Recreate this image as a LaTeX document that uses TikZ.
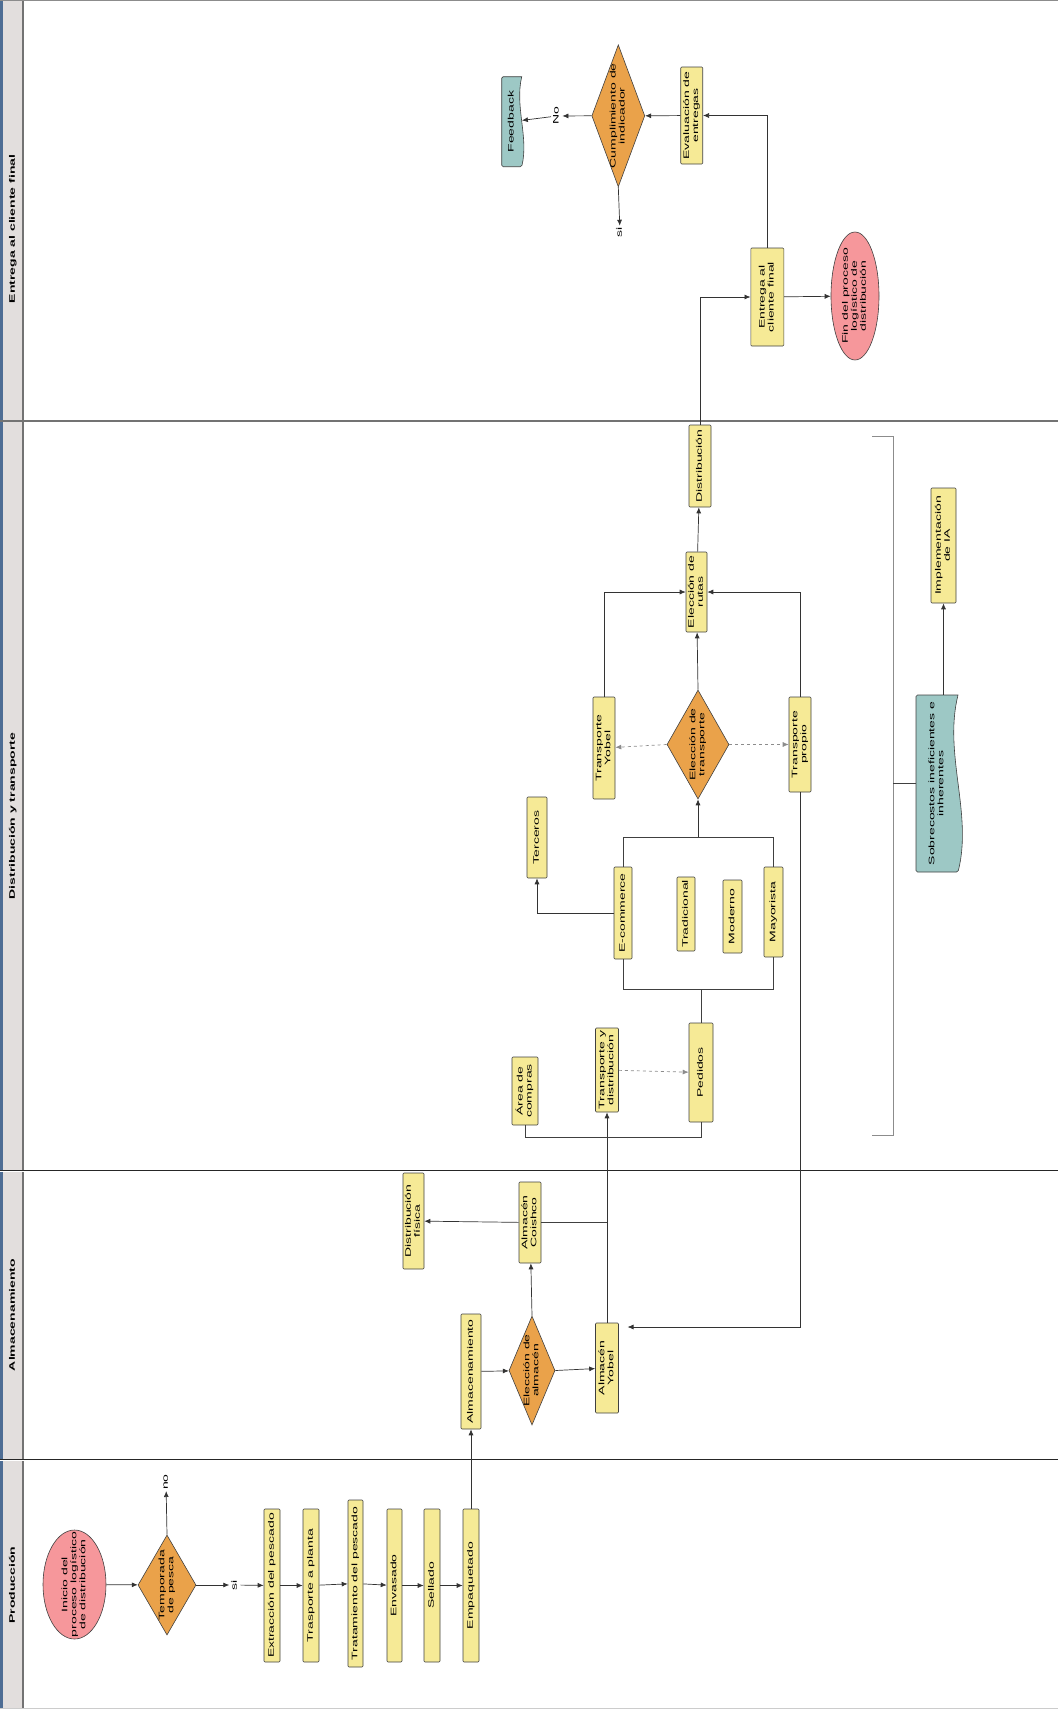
\documentclass[tikz,border=0pt]{standalone}
\usepackage{fontspec}
\setmainfont{Liberation Sans}
\usetikzlibrary{shapes.geometric,arrows.meta}

\definecolor{boxyellow}{HTML}{F6EA96}
\definecolor{decorange}{HTML}{EAA24A}
\definecolor{startpink}{HTML}{F6979B}
\definecolor{docteal}{HTML}{9DC8C5}
\definecolor{lanegrey}{HTML}{E2DEDD}
\definecolor{laneblue}{HTML}{4E6D94}

\newcommand{\vtxt}[1]{\rotatebox{90}{\scalebox{1.75}[1]{\begin{tabular}{@{}c@{}}#1\end{tabular}}}}
\newcommand{\wavedoc}[4]{%
  \filldraw[docshape, rounded corners=1.5pt]
    ({#1+#3/2},{#2-#4/2}) -- ({#1-#3/2},{#2-#4/2}) -- ({#1-#3/2},{#2+#4/2}) -- ({#1+#3/2},{#2+#4/2})
    [sharp corners] .. controls ({#1+#3*0.85},{#2+#4/6}) and ({#1+#3*0.15},{#2-#4/6}) .. ({#1+#3/2},{#2-#4/2}) -- cycle;}

\tikzset{
  sz/.style 2 args={minimum width=#1, minimum height=#2},
  box/.style={rectangle, draw=black!75, fill=boxyellow, rounded corners=1pt, inner sep=0pt, line width=0.6pt},
  decision/.style={diamond, draw=black!75, fill=decorange, inner sep=0pt, line width=0.6pt},
  startend/.style={ellipse, draw=black!75, fill=startpink, inner sep=0pt, line width=0.6pt},
  docshape/.style={draw=black!75, fill=docteal, line width=0.6pt},
  doctext/.style={rectangle, inner sep=0pt},
  tag/.style={inner sep=1pt},
  lanetitle/.style={inner sep=0pt, font=\fontsize{8}{9}\selectfont\bfseries},
  arr/.style={draw=black!80, line width=0.7pt, -{Latex[length=6pt,width=5pt]}},
  dasharr/.style={arr, draw=black!45, dashed},
  link/.style={draw=black!75, line width=0.7pt},
  bracket/.style={draw=black!45, line width=0.9pt}
}

\begin{document}
\begin{tikzpicture}[x=1pt, y=-1pt, font=\fontsize{8}{9}\selectfont]
  \useasboundingbox (0,0) rectangle (1058,1709);

  \fill[laneblue] (0,0) rectangle (3,1709);
  \fill[lanegrey] (3,0) rectangle (23,1709);
  \draw[black!55, line width=1.2pt] (23,0) -- (23,1709);
  \draw[black!45, line width=1pt] (0,0.5) -- (1058,0.5);
  \draw[black!55, line width=1.2pt] (0,421) -- (1058,421);
  \draw[black!85, double, double distance=0.8pt, line width=0.6pt] (0,1171) -- (1058,1171);
  \draw[black!85, double, double distance=0.8pt, line width=0.6pt] (0,1460) -- (1058,1460);
  \draw[black!20] (0,1708.5) -- (1058,1708.5);

  \begin{scope}[every node/.style={lanetitle}]
    \node (lane1) at (13,1585) {\vtxt{Producción}};
    \node (lane2) at (13,1315) {\vtxt{Almacenamiento}};
    \node (lane3) at (13,816)  {\vtxt{Distribución y transporte}};
    \node (lane4) at (13,229)  {\vtxt{Entrega al cliente final}};
  \end{scope}

  \wavedoc{937}{783.5}{42}{177}
  \wavedoc{511.7}{121.7}{20}{90}

  \begin{scope}[every node/.style={box}]
    \node[sz={16}{153}] (ext)   at (272,1585.5)  {\vtxt{Extracción del pescado}};
    \node[sz={16}{153}] (trp)   at (311,1585.5)  {\vtxt{Trasporte a planta}};
    \node[sz={15}{167}] (trat)  at (355.5,1583.5) {\vtxt{Tratamiento del pescado}};
    \node[sz={15}{153}] (env)   at (394.5,1585.5) {\vtxt{Envasado}};
    \node[sz={16}{153}] (sel)   at (432,1585.5)  {\vtxt{Sellado}};
    \node[sz={16}{153}] (emp)   at (471,1585.5)  {\vtxt{Empaquetado}};
    \node[sz={20}{115}] (alm)   at (471,1371.5)  {\vtxt{Almacenamiento}};
    \node[sz={23}{90}]  (yob)   at (607,1368)    {\vtxt{Almacén\\Yobel}};
    \node[sz={22}{81}]  (coi)   at (530,1222.5)  {\vtxt{Almacén\\Coishco}};
    \node[sz={21}{96}]  (dfis)  at (413.5,1221)  {\vtxt{Distribución\\física}};
    \node[sz={26}{68}]  (acomp) at (525,1091)    {\vtxt{Área de\\compras}};
    \node[sz={23}{84}]  (tyd)   at (607,1070)    {\vtxt{Transporte y\\distribución}};
    \node[sz={24}{99}]  (ped)   at (701,1072.5)  {\vtxt{Pedidos}};
    \node[sz={20}{81}]  (terc)  at (537,837.5)   {\vtxt{Terceros}};
    \node[sz={18}{92}]  (ecom)  at (623,913)     {\vtxt{E-commerce}};
    \node[sz={18}{74}]  (trad)  at (686,914)     {\vtxt{Tradicional}};
    \node[sz={19}{73}]  (mod)   at (732.5,916.5) {\vtxt{Moderno}};
    \node[sz={19}{90}]  (may)   at (773.5,912)   {\vtxt{Mayorista}};
    \node[sz={22}{102}] (tyob)  at (604,748)     {\vtxt{Transporte\\Yobel}};
    \node[sz={22}{95}]  (tpro)  at (800,744.5)   {\vtxt{Transporte\\propio}};
    \node[sz={21}{80}]  (rutas) at (696.5,592)   {\vtxt{Elección de\\rutas}};
    \node[sz={22}{82}]  (dist)  at (700,466)     {\vtxt{Distribución}};
    \node[sz={25}{115}] (ia)    at (943.5,545.5) {\vtxt{Implementación\\de IA}};
    \node[sz={22}{97}]  (eval)  at (691.7,115.5) {\vtxt{Evaluación de\\entregas}};
    \node[sz={33}{98}]  (ent)   at (767.3,297)   {\vtxt{Entrega al\\cliente final}};
  \end{scope}

  \begin{scope}[every label/.style={inner sep=0pt}]
    \node[startend, sz={63}{109}, label={center:\vtxt{Inicio del\\proceso logístico\\de distribución}}] (ini) at (74.5,1584.5) {};
    \node[startend, sz={48}{128}, label={center:\vtxt{Fin del proceso\\logístico de\\distribución}}] (fin) at (855,296) {};
    \node[decision, sz={58}{100}, label={center:\vtxt{Temporada\\de pesca}}] (temp) at (167,1585) {};
    \node[decision, sz={46}{109}, label={center:\vtxt{Elección de\\almacén}}] (ealm) at (532,1370.5) {};
    \node[decision, sz={62}{109}, label={center:\vtxt{Elección de\\transporte}}] (etr) at (698,744.5) {};
    \node[decision, sz={53}{142}, label={center:\vtxt{Cumplimiento de\\indicador}}] (cump) at (618.3,115.8) {};
  \end{scope}

  \node[doctext, sz={42}{177}] (sob) at (937,783.5) {\vtxt{Sobrecostos ineficientes e\\inherentes}};
  \node[doctext, sz={20}{90}] (fb) at (511.7,121.7) {\vtxt{Feedback}};

  \begin{scope}[every node/.style={tag}]
    \node (lno)  at (166,1482)  {\vtxt{no}};
    \node (lsi)  at (235,1585)  {\vtxt{si}};
    \node (lno2) at (556.7,116) {\vtxt{No}};
    \node (lsi2) at (620,232)   {\vtxt{si}};
  \end{scope}

  \coordinate (yobin) at (627.5,1327);
  \coordinate (brtop) at (872,436);
  \coordinate (brbot) at (872,1135);

  \begin{scope}[every edge/.style={arr}]
    \path (ini) edge (temp);
    \path (temp.north) edge (lno);
    \path (temp.east) edge (lsi);
    \path (lsi) edge (ext);
    \path (ext) edge (trp);
    \path (trp) edge (trat);
    \path (trat) edge (env);
    \path (env) edge (sel);
    \path (sel) edge (emp);
    \path (emp) edge (alm);
    \path (alm) edge (ealm);
    \path (ealm.east) edge (yob);
    \path (ealm.north) edge (coi);
    \path (coi) edge (dfis);
    \path (yob) edge (tyd);
    \path (etr.north) edge (rutas);
    \path (rutas) edge (dist);
    \path (ent) edge (fin);
    \path (eval) edge (cump.east);
    \path (cump.west) edge (lno2);
    \path (lno2) edge (fb);
    \path (cump.south) edge (lsi2);
    \path (sob.north -| ia.south) edge (ia);
  \end{scope}

  \begin{scope}[every edge/.style={dasharr}]
    \path (tyd) edge (ped);
    \path (etr.west) edge (tyob);
    \path (etr.east) edge (tpro);
  \end{scope}

  \draw[link] (yob.north |- coi.east) -- (coi.east);
  \draw[arr] (tpro.south) |- (yobin);
  \draw[link] (acomp.south) |- (ped.south |- 0,1137) -- (ped.south);
  \draw[link] (ecom.south) |- (may.south |- 0,989) -- (may.south);
  \draw[link] (ped.north) -- (ped.north |- 0,989);
  \draw[link] (ecom.north) |- (may.north |- 0,837) -- (may.north);
  \draw[arr] (etr.south |- 0,837) -- (etr.south);
  \draw[arr] (ecom.west) -| (terc.south);
  \draw[arr] (tyob.north) |- (rutas.west);
  \draw[arr] (tpro.north) |- (rutas.east);
  \draw[arr] (dist.north) |- (ent.west);
  \draw[arr] (ent.north) |- (eval.east);
  \draw[bracket] (brtop) -- ++(21,0) |- (brbot);
  \draw[link] (sob.west) -- (sob.west -| 893,0);
\end{tikzpicture}
\end{document}
